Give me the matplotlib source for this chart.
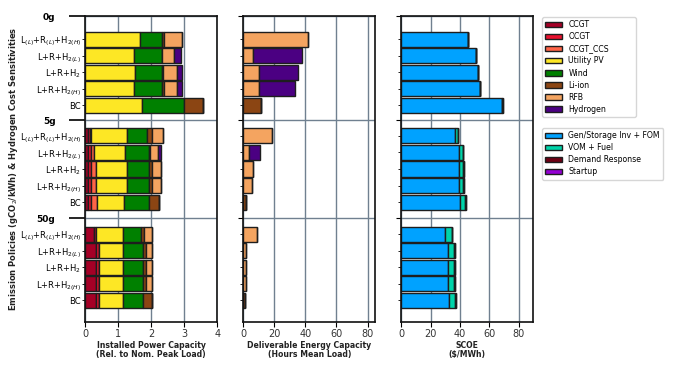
import matplotlib
matplotlib.use('Agg')
import matplotlib.pyplot as plt
from matplotlib.patches import Patch
import numpy as np

# policies (groups) and hydrogen cost sensitivities (bars in each group)
policies = ['0g', '5g', '50g']
scenarios = ['L$_{(L)}$+R$_{(L)}$+H$_{2(H)}$', 'L+R+H$_{2(L)}$', 'L+R+H$_2$',
             'L+R+H$_{2(H)}$', 'BC']

# installed power capacity (rel. to nominal peak load), 0g / 5g / 50g x scenarios
ccgt = [0, 0, 0, 0, 0,
        0.08, 0.08, 0.08, 0.08, 0.08,
        0.26, 0.31, 0.31, 0.31, 0.31]
ocgt = [0, 0, 0, 0, 0,
        0.05, 0.10, 0.10, 0.10, 0.10,
        0.06, 0.12, 0.12, 0.12, 0.12]
ccgt_ccs = [0, 0, 0, 0, 0,
            0.05, 0.08, 0.13, 0.13, 0.18,
            0, 0, 0, 0, 0]
pv = [1.66, 1.48, 1.51, 1.48, 1.73,
      1.09, 0.95, 0.96, 0.96, 0.82,
      0.83, 0.70, 0.70, 0.70, 0.70]
wind = [0.65, 0.83, 0.82, 0.85, 1.26,
        0.61, 0.71, 0.67, 0.67, 0.76,
        0.53, 0.63, 0.63, 0.63, 0.63]
liion_p = [0.08, 0, 0.03, 0.05, 0.58,
           0.13, 0.04, 0.09, 0.09, 0.30,
           0.11, 0.09, 0.09, 0.09, 0.25]
rfb_p = [0.54, 0.38, 0.42, 0.40, 0,
         0.35, 0.24, 0.27, 0.27, 0,
         0.22, 0.16, 0.16, 0.16, 0]
h2_p = [0, 0.22, 0.15, 0.15, 0,
        0, 0.08, 0, 0, 0,
        0, 0, 0, 0, 0]

# deliverable energy capacity (hours of mean load)
liion_e = [0, 0, 0, 0, 11.2,
           0, 0, 0, 0, 1.9,
           0, 0, 0, 0, 1.3]
rfb_e = [41.9, 6.5, 9.9, 10.3, 0,
         18.3, 3.9, 6.0, 5.8, 0,
         8.6, 1.9, 1.9, 1.9, 0]
h2_e = [0, 31.1, 25.1, 22.7, 0,
        0, 6.6, 0, 0, 0,
        0, 0, 0, 0, 0]

# SCOE components ($/MWh)
inv_fom = [45.5, 51.1, 52.3, 53.6, 68.5,
           36.9, 39.4, 39.4, 39.4, 40.0,
           29.9, 32.1, 32.1, 32.1, 32.8]
vom_fuel = [0, 0, 0, 0, 0,
            1.8, 2.7, 2.9, 2.9, 3.4,
            4.7, 3.9, 3.9, 3.9, 3.8]
demand_resp = [0, 0, 0, 0, 0.9,
               0, 0, 0.4, 0.4, 0.9,
               0, 0.6, 0.6, 0.6, 0.9]
startup = [0] * 15

tech_names = ['CCGT', 'OCGT', 'CCGT_CCS', 'Utility PV', 'Wind', 'Li-ion', 'RFB', 'Hydrogen']
tech_colors = ['#a50026', '#e8112d', '#ff6347', '#fde725', '#008000', '#8b4513', '#f4a460', '#4b0082']
cost_names = ['Gen/Storage Inv + FOM', 'VOM + Fuel', 'Demand Response', 'Startup']
cost_colors = ['#00a2ff', '#00d4aa', '#6e0014', '#9400d3']

# y layout: group separators and bar centres
group_top = np.array([0.0, 6.3, 12.24])
first_off = np.array([1.38, 0.95, 0.95])
ypos = np.concatenate([g + o + np.arange(len(scenarios)) for g, o in zip(group_top, first_off)])
bar_h = 0.91
edge = dict(edgecolor='#1e1e1e', linewidth=1.0)


def stacked(ax, series, colors):
    left = np.zeros(len(ypos))
    for vals, c in zip(series, colors):
        vals = np.array(vals, dtype=float)
        ax.barh(ypos, vals, height=bar_h, left=left, color=c, **edge)
        left += vals


fig = plt.figure(figsize=(6.8, 3.69), dpi=100)
W = 132 / 680
B = 1 - 321.7 / 369
H = (321.7 - 16.3) / 369
ax1 = fig.add_axes([85.3 / 680, B, W, H])
ax2 = fig.add_axes([243.3 / 680, B, W, H])
ax3 = fig.add_axes([401.3 / 680, B, W, H])

stacked(ax1, [ccgt, ocgt, ccgt_ccs, pv, wind, liion_p, rfb_p, h2_p], tech_colors)
stacked(ax2, [liion_e, rfb_e, h2_e], tech_colors[5:])
stacked(ax3, [inv_fom, vom_fuel, demand_resp, startup], cost_colors)

ax1.set_xlim(0, 4)
ax1.set_xticks([0, 1, 2, 3, 4])
ax2.set_xlim(0, 85)
ax2.set_xticks([0, 20, 40, 60, 80])
ax3.set_xlim(0, 90)
ax3.set_xticks([0, 20, 40, 60, 80])

for ax in (ax1, ax2, ax3):
    ax.set_ylim(18.5, 0)
    ax.set_axisbelow(True)
    ax.set_yticks(group_top)
    ax.set_yticks(ypos, minor=True)
    ax.grid(True, which='major', color='slategray', linewidth=1.0)
    for s in ax.spines.values():
        s.set_linewidth(1.2)
        s.set_color('#111111')
    ax.tick_params(axis='x', labelsize=7, labelcolor='#333333', length=3.5, pad=1.5)
    ax.tick_params(axis='y', which='minor', length=2)

ax1.set_yticklabels(policies, fontweight='bold', fontsize=6.5)
ax1.set_yticklabels(scenarios * len(policies), minor=True, fontsize=6)
ax1.tick_params(axis='y', which='major', length=11.5, width=1.2, pad=10)
ax1.tick_params(axis='y', which='minor', pad=1)
for ax in (ax2, ax3):
    ax.tick_params(axis='y', which='both', labelleft=False)

lab = dict(fontsize=5.6, fontweight='bold', color='#222222', linespacing=0.98)
ax1.set_xlabel('Installed Power Capacity\n(Rel. to Nom. Peak Load)', labelpad=1.5, **lab)
ax2.set_xlabel('Deliverable Energy Capacity\n(Hours Mean Load)', labelpad=1.5, **lab)
ax3.set_xlabel('SCOE\n($/MWh)', labelpad=1.5, **lab)
fig.text(14 / 680, B + H / 2, 'Emission Policies (gCO$_2$/kWh) & Hydrogen Cost Sensitivities',
         rotation=90, ha='center', va='center', fontsize=6, fontweight='bold', color='#222222')

h1 = [Patch(facecolor=c, label=n, **edge) for n, c in zip(tech_names, tech_colors)]
h2 = [Patch(facecolor=c, label=n, **edge) for n, c in zip(cost_names, cost_colors)]
leg = dict(borderaxespad=0, fontsize=5.6, handlelength=2.2, handleheight=0.7, labelspacing=0.4)
fig.legend(handles=h1, loc='upper left', mode='expand',
           bbox_to_anchor=(542 / 680, 1 - 117 / 369, 94 / 680, 100 / 369), **leg)
fig.legend(handles=h2, loc='upper left', bbox_to_anchor=(542 / 680, 1 - 128 / 369), **leg)

fig.savefig('out.png', dpi=100)
